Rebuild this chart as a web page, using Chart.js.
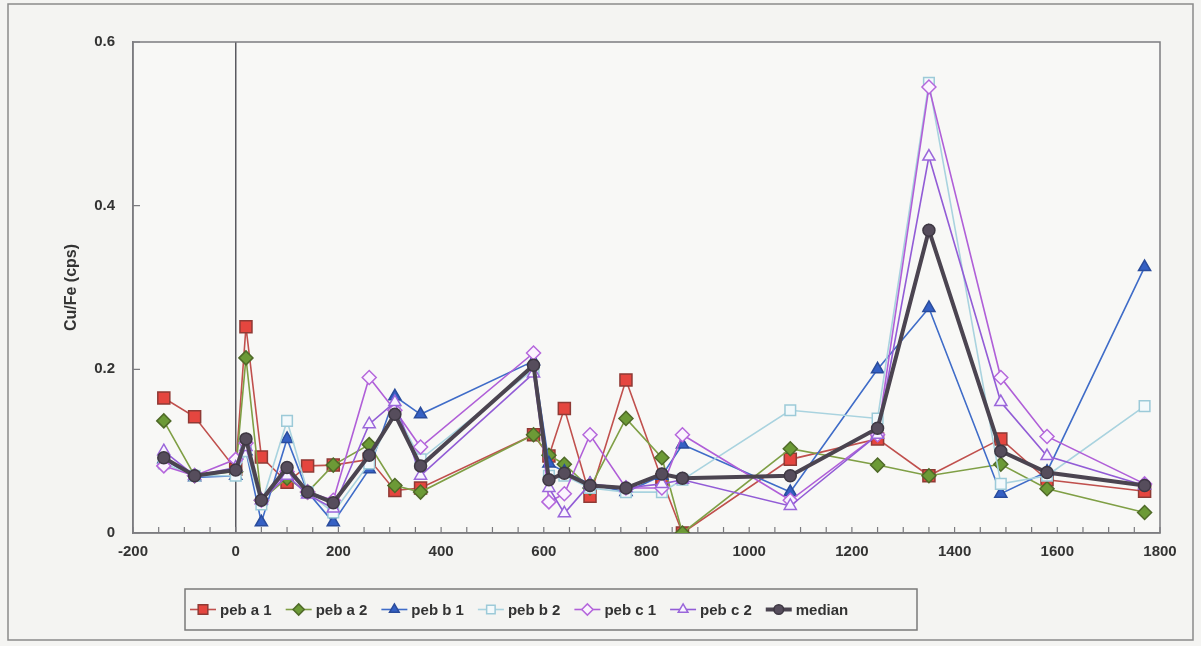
<!DOCTYPE html>
<html>
<head>
<meta charset="utf-8">
<script src="https://cdn.jsdelivr.net/npm/chart.js@4.4.1/dist/chart.umd.min.js"></script>
<style>
  html, body { margin: 0; padding: 0; background: #f4f4f2; }
  #wrap { width: 1201px; height: 646px; }
</style>
</head>
<body>
<div id="wrap"><canvas id="myChart" width="1201" height="646"></canvas></div>
<script>
"use strict";

// positions along the profile (x axis)
const depths = [-140, -80, 0, 20, 50, 100, 140, 190, 260, 310, 360, 580, 610, 640, 690, 760, 830, 870, 1080, 1250, 1350, 1490, 1580, 1770];

// Cu/Fe ratios
const pebA1 = [0.165, 0.142, 0.078, 0.252, 0.093, 0.062, 0.082, 0.083, 0.09, 0.052, 0.055, 0.12, 0.094, 0.152, 0.045, 0.187, 0.065, 0.0, 0.09, 0.115, 0.07, 0.115, 0.065, 0.051];
const pebA2 = [0.137, 0.07, 0.075, 0.214, 0.04, 0.067, 0.05, 0.083, 0.108, 0.058, 0.05, 0.12, 0.095, 0.084, 0.055, 0.14, 0.092, 0.0, 0.103, 0.083, 0.07, 0.084, 0.054, 0.025];
const pebB1 = [0.09, 0.068, 0.07, 0.1, 0.013, 0.115, 0.05, 0.013, 0.078, 0.167, 0.145, 0.21, 0.085, 0.075, 0.06, 0.05, 0.07, 0.108, 0.05, 0.2, 0.275, 0.048, 0.075, 0.325];
const pebB2 = [0.085, 0.07, 0.07, 0.1, 0.035, 0.137, 0.05, 0.025, 0.085, 0.15, 0.09, 0.2, 0.07, 0.07, 0.055, 0.05, 0.05, 0.065, 0.15, 0.14, 0.55, 0.06, 0.07, 0.155];
const pebC1 = [0.082, 0.07, 0.09, 0.11, 0.04, 0.075, 0.05, 0.04, 0.19, 0.15, 0.105, 0.22, 0.038, 0.048, 0.12, 0.055, 0.055, 0.12, 0.04, 0.12, 0.545, 0.19, 0.118, 0.06];
const pebC2 = [0.1, 0.07, 0.08, 0.105, 0.04, 0.07, 0.047, 0.03, 0.133, 0.16, 0.07, 0.195, 0.055, 0.024, 0.06, 0.055, 0.06, 0.065, 0.033, 0.12, 0.46, 0.16, 0.094, 0.058];
const medianVals = [0.092, 0.07, 0.077, 0.115, 0.04, 0.08, 0.05, 0.037, 0.095, 0.145, 0.082, 0.205, 0.065, 0.073, 0.058, 0.055, 0.072, 0.067, 0.07, 0.128, 0.37, 0.1, 0.074, 0.058];

const seriesNames = ["peb a 1", "peb a 2", "peb b 1", "peb b 2", "peb c 1", "peb c 2", "median"];
const yTicks = [0, 0.2, 0.4, 0.6];
const xLabelStep = 200;
const yTitle = "Cu/Fe (cps)";

function toPoints(values) {
  return depths.map((d, i) => ({ x: d, y: values[i] }));
}

function makeSet(label, values, style, order) {
  return Object.assign({
    label: label,
    data: toPoints(values),
    order: order,
    borderWidth: 1.6,
    pointBorderWidth: 1.5,
    tension: 0,
  }, style);
}

const datasets = [
  makeSet(seriesNames[0], pebA1, { borderColor: "#c0504d", pointStyle: "rect", pointRadius: 8.5, pointBackgroundColor: "#e5463f", pointBorderColor: "#8f3a35" }, 6),
  makeSet(seriesNames[1], pebA2, { borderColor: "#7f9f45", pointStyle: "rectRot", pointRadius: 7, pointBackgroundColor: "#6c9a36", pointBorderColor: "#4f6a28" }, 5),
  makeSet(seriesNames[2], pebB1, { borderColor: "#3f6cc8", pointStyle: "triangle", pointRadius: 7, pointBackgroundColor: "#3560c4", pointBorderColor: "#2a4c9c" }, 4),
  makeSet(seriesNames[3], pebB2, { borderColor: "#a9d3df", pointStyle: "rect", pointRadius: 7.5, pointBackgroundColor: "#f3f9fb", pointBorderColor: "#9ccad8" }, 3),
  makeSet(seriesNames[4], pebC1, { borderColor: "#b05fd8", pointStyle: "rectRot", pointRadius: 7, pointBackgroundColor: "#fbf4fe", pointBorderColor: "#b567dc" }, 2),
  makeSet(seriesNames[5], pebC2, { borderColor: "#925cd6", pointStyle: "triangle", pointRadius: 7, pointBackgroundColor: "#f8f4fe", pointBorderColor: "#9a66da" }, 1),
  makeSet(seriesNames[6], medianVals, { borderColor: "#4b4450", borderWidth: 4, pointStyle: "circle", pointRadius: 6, pointBackgroundColor: "#564d5c", pointBorderColor: "#3e3843" }, 0),
];

const textColor = "#333333";
const axisColor = "#7c7c80";
const fontFamily = "'Liberation Sans', Arial, sans-serif";

// background, plot frame, ticks drawn inside, legend with line + marker
const framePlugin = {
  id: "frame",
  beforeDraw(chart) {
    const ctx = chart.ctx;
    const a = chart.chartArea;
    ctx.save();
    ctx.fillStyle = "#f4f4f2";
    ctx.fillRect(0, 0, chart.width, chart.height);
    ctx.strokeStyle = "#8a8a8a";
    ctx.lineWidth = 1.5;
    ctx.strokeRect(8, 4, chart.width - 16, chart.height - 10);
    ctx.fillStyle = "#f8f8f6";
    ctx.fillRect(a.left, a.top, a.right - a.left, a.bottom - a.top);
    ctx.restore();
  },
  beforeDatasetsDraw(chart) {
    const ctx = chart.ctx;
    const a = chart.chartArea;
    const xs = chart.scales.x;
    const ys = chart.scales.y;
    ctx.save();
    ctx.strokeStyle = axisColor;
    ctx.lineWidth = 1.5;
    ctx.strokeRect(a.left, a.top, a.right - a.left, a.bottom - a.top);
    ctx.lineWidth = 1.2;
    ctx.beginPath();
    xs.ticks.forEach(t => {
      const px = xs.getPixelForValue(t.value);
      ctx.moveTo(px, a.bottom);
      ctx.lineTo(px, a.bottom - 6);
    });
    ys.ticks.forEach(t => {
      const py = ys.getPixelForValue(t.value);
      ctx.moveTo(a.left, py);
      ctx.lineTo(a.left + 7, py);
    });
    ctx.stroke();
    ctx.restore();
  },
  afterDraw(chart) {
    const ctx = chart.ctx;
    ctx.save();
    ctx.font = "bold 15px " + fontFamily;
    ctx.textBaseline = "middle";
    const top = 589;
    const bottom = 630;
    const left = 185;
    const boxRight = 917;
    const midY = (top + bottom) / 2;
    let m = 203;
    chart.data.datasets.forEach(ds => {
      ctx.strokeStyle = ds.borderColor;
      ctx.lineWidth = ds.borderWidth;
      ctx.beginPath();
      ctx.moveTo(m - 13, midY);
      ctx.lineTo(m + 13, midY);
      ctx.stroke();
      ctx.fillStyle = ds.pointBackgroundColor;
      ctx.strokeStyle = ds.pointBorderColor;
      ctx.lineWidth = ds.pointBorderWidth;
      Chart.helpers.drawPoint(ctx, {
        pointStyle: ds.pointStyle,
        rotation: 0,
        radius: ds.pointRadius * 0.8,
        borderWidth: ds.pointBorderWidth,
      }, m, midY);
      ctx.fillStyle = textColor;
      const tx = m + 17;
      ctx.fillText(ds.label, tx, midY + 1);
      m = tx + ctx.measureText(ds.label).width + 27;
    });
    ctx.strokeStyle = "#7a7a7a";
    ctx.lineWidth = 1.5;
    ctx.strokeRect(left, top, boxRight - left, bottom - top);
    ctx.restore();
  }
};

const config = {
  type: "line",
  data: { datasets: datasets },
  options: {
    responsive: false,
    animation: false,
    layout: { padding: { left: 58, right: 41, top: 42, bottom: 0 } },
    elements: { point: { hoverRadius: 6 } },
    plugins: {
      legend: { display: false },
      tooltip: { enabled: false },
    },
    scales: {
      x: {
        type: "linear",
        min: -200,
        max: 1800,
        ticks: {
          stepSize: 50,
          autoSkip: false,
          maxRotation: 0,
          padding: 10,
          color: textColor,
          font: { family: fontFamily, size: 15, weight: "bold" },
          callback: v => (v % xLabelStep === 0 ? String(v) : ""),
        },
        grid: {
          drawTicks: false,
          lineWidth: 1.5,
          color: c => (c.tick && c.tick.value === 0 ? "#5a5a60" : "rgba(0,0,0,0)"),
        },
        border: { display: true, color: axisColor, width: 1.5 },
        afterFit: s => { s.height = 113; },
      },
      y: {
        min: 0,
        max: 0.6,
        afterBuildTicks: s => { s.ticks = yTicks.map(v => ({ value: v })); },
        ticks: {
          padding: 18,
          color: textColor,
          font: { family: fontFamily, size: 15, weight: "bold" },
        },
        grid: { drawTicks: false, color: "rgba(0,0,0,0)" },
        border: { display: true, color: axisColor, width: 1.5 },
        title: {
          display: true,
          text: yTitle,
          color: textColor,
          padding: { top: 4, bottom: 0 },
          font: { family: fontFamily, size: 16, weight: "bold" },
        },
        afterFit: s => { s.width = 75; },
      },
    },
  },
  plugins: [framePlugin],
};

const myChart = new Chart(document.getElementById("myChart"), config);
</script>
</body>
</html>
